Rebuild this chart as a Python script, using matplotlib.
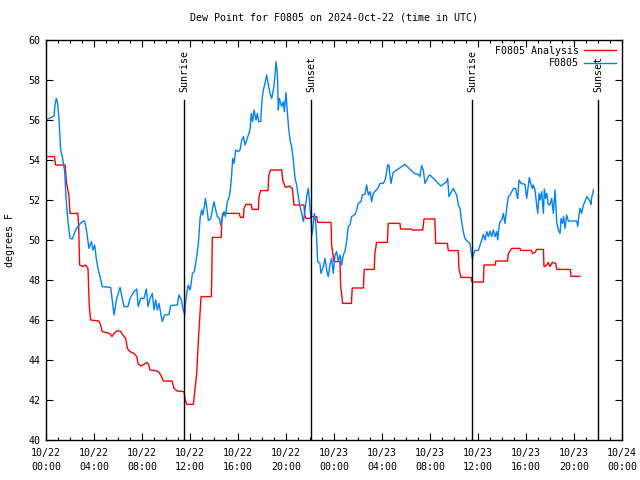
import matplotlib
matplotlib.use("Agg")
import matplotlib.pyplot as plt
from matplotlib.ticker import MultipleLocator

# ---- data (hours since 2024-10-22 00:00 UTC, degrees F) ----
obs_hours = [0.0, 0.44, 0.67, 0.75, 0.86, 0.97, 1.08, 1.22, 1.36, 1.56, 1.67, 1.83, 2.0, 2.19, 2.47, 2.75,
             3.03, 3.22, 3.39, 3.58, 3.78, 3.92, 4.06, 4.19, 4.33, 4.5, 4.69, 5.39, 5.53, 5.67, 5.89, 6.17,
             6.36, 6.5, 6.83, 7.0, 7.33, 7.56, 7.69, 7.89, 8.17, 8.36, 8.5, 8.67, 8.86, 9.0, 9.14, 9.28,
             9.42, 9.56, 9.69, 9.89, 10.25, 10.39, 10.94, 11.08, 11.28, 11.44, 11.56,
             11.62, 11.72, 11.86, 12.0, 12.08, 12.2, 12.36, 12.42, 12.56, 12.7, 12.84, 12.97, 13.06, 13.2,
             13.28, 13.39, 13.53, 13.73, 13.86, 14.0, 14.14, 14.28, 14.45, 14.56, 14.72, 14.84, 14.95,
             15.11, 15.28, 15.39, 15.47, 15.56, 15.67, 15.81, 16.03, 16.17, 16.31, 16.45, 16.59, 16.73,
             16.86, 17.0, 17.11, 17.22, 17.34, 17.5, 17.61, 17.72, 17.89, 18.0, 18.11, 18.25, 18.39,
             18.53, 18.67, 18.81, 18.95, 19.09, 19.17, 19.28, 19.36, 19.45, 19.56, 19.64, 19.78, 19.86,
             20.0, 20.11, 20.22, 20.34, 20.47, 20.61, 20.75, 20.89, 21.03, 21.17, 21.31, 21.45, 21.59,
             21.72, 21.86, 21.95, 22.06, 22.17, 22.28, 22.36, 22.47, 22.55, 22.64, 22.83, 22.91, 23.11,
             23.25, 23.39, 23.52, 23.66, 23.8, 23.94, 24.08, 24.22, 24.36, 24.5, 24.64, 24.77, 24.91,
             25.05, 25.19, 25.33, 25.47, 25.75, 25.89, 26.02, 26.25, 26.36, 26.58, 26.72, 26.86, 27.0,
             27.14, 27.27, 27.64, 27.83, 28.11, 28.3, 28.47, 28.58, 28.66, 28.75, 28.86, 28.94, 29.91,
             30.69, 31.02, 31.16, 31.3, 31.44, 31.58, 31.91, 32.0, 32.91, 33.39, 33.47, 33.58, 33.94,
             34.22, 34.36, 34.5, 34.64, 34.77, 34.91, 35.13, 35.33, 35.47, 35.53, 35.61, 35.75, 36.03,
             36.17, 36.31, 36.45, 36.59, 36.73, 36.86, 37.0, 37.14, 37.28, 37.42, 37.56, 37.64, 37.75,
             37.84, 37.98, 38.11, 38.25, 38.39, 38.53, 38.67, 38.81, 38.95, 39.14, 39.23, 39.31, 39.42,
             39.59, 39.92, 40.06, 40.2, 40.28, 40.39, 40.53, 40.61, 40.75, 40.89, 40.98, 41.09, 41.17,
             41.31, 41.45, 41.53, 41.64, 41.73, 41.86, 42.0, 42.14, 42.28, 42.42, 42.56, 42.7, 42.84,
             42.92, 43.03, 43.14, 43.25, 43.39, 43.53, 44.23, 44.31, 44.42, 44.5, 44.64, 44.78, 44.92,
             45.06, 45.2, 45.34, 45.42, 45.48, 45.56, 45.61]
obs_values = [56.0, 56.13, 56.2, 56.75, 57.08, 56.83, 56.08, 54.5, 54.17, 53.42, 52.08, 50.92, 50.08, 50.05,
              50.5, 50.75, 50.92, 50.95, 50.42, 49.58, 49.92, 49.5, 49.75, 49.08, 48.58, 48.17, 47.67,
              47.63, 46.92, 46.25, 47.08, 47.63, 47.08, 46.67, 46.67, 47.08, 47.42, 47.55, 46.67, 47.08,
              47.08, 47.55, 46.67, 47.08, 47.33, 46.5, 47.0, 46.5, 46.83, 46.33, 45.92, 46.25, 46.28,
              46.72, 46.75, 47.25, 47.0, 46.5, 46.28,
              46.83, 47.33, 47.75, 47.5, 47.75, 48.33, 48.42, 48.67, 49.17, 49.83, 51.08, 51.5, 51.25,
              51.67, 52.08, 51.67, 50.97, 51.08, 51.5, 51.92, 51.5, 51.17, 51.08, 50.75, 51.17, 51.42,
              51.17, 51.92, 52.17, 52.67, 53.25, 54.08, 53.83, 54.5, 54.42, 54.5, 55.0, 55.17, 54.75,
              55.0, 55.25, 55.5, 56.33, 55.92, 56.5, 56.0, 56.33, 55.92, 55.92, 57.0, 57.5, 57.83, 58.25,
              57.75, 57.33, 57.08, 57.5, 58.25, 58.92, 58.33, 56.5, 57.08, 56.83, 56.67, 56.92, 56.42,
              57.37, 56.42, 55.58, 55.0, 54.67, 54.0, 53.08, 52.75, 52.17, 51.67, 51.33, 50.92, 51.5,
              52.17, 52.58, 52.0, 51.17, 50.25, 50.83, 51.33, 50.92, 50.08, 48.92, 48.83, 48.33, 48.67,
              49.08, 48.5, 48.17, 48.75, 49.08, 48.33, 49.25, 49.42, 48.92, 49.25, 48.75, 49.25, 49.42,
              49.92, 50.67, 50.75, 51.17, 51.28, 51.5, 51.83, 51.92, 52.25, 52.28, 52.75, 52.25, 52.42,
              51.92, 52.33, 52.58, 52.83, 52.83, 53.08, 53.75, 53.75, 53.25, 52.83, 53.17, 53.38, 53.78,
              53.33, 53.28, 53.17, 53.72, 53.5, 52.83, 53.22, 53.25, 52.7, 52.92, 53.08, 52.17, 52.58,
              52.25, 51.75, 51.58, 50.92, 50.42, 50.08, 49.92, 49.83, 49.25, 49.08, 49.25, 49.48, 49.48,
              49.75, 50.0, 50.28, 50.0, 50.42, 50.17, 50.45, 50.17, 50.5, 50.17, 50.42, 50.0, 50.67,
              50.92, 51.0, 51.33, 50.83, 51.58, 52.17, 52.25, 52.42, 52.58, 52.58, 52.25, 52.08, 53.0,
              52.83, 52.78, 52.08, 52.75, 53.12, 52.83, 52.58, 52.75, 52.5, 51.75, 51.33, 52.33, 52.0,
              52.42, 51.33, 52.55, 52.08, 52.33, 51.75, 51.78, 52.08, 51.33, 52.5, 50.88, 50.5, 50.33,
              51.08, 50.83, 51.17, 50.58, 51.25, 50.95, 50.95, 50.67, 51.25, 51.58, 51.33, 51.75, 51.92,
              52.17, 52.08, 51.92, 51.78, 52.17, 52.28, 52.5]

ana_hours = [0.0, 0.7, 0.8, 1.6, 1.7, 1.9, 2.0, 2.65, 2.72, 2.8, 3.1, 3.3, 3.5, 3.6, 3.72, 4.4, 4.55, 4.69,
             5.3, 5.5, 5.67, 5.89, 6.2, 6.4, 6.64, 6.78, 7.0, 7.33, 7.56, 7.67, 7.89, 8.17, 8.39, 8.55,
             8.67, 9.28, 9.42, 9.56, 9.78, 10.5, 10.67, 10.94, 11.5, 11.58, 11.72, 12.28, 12.42, 12.56,
             12.7, 12.84, 12.92, 13.78, 13.81, 13.86, 14.6, 14.64, 14.72, 16.1, 16.2, 16.45, 16.5, 16.67,
             17.1, 17.18, 17.7, 17.75, 17.89, 18.5, 18.56, 18.7, 19.65, 19.72, 19.95, 20.3, 20.45, 20.53,
             20.67, 21.5, 21.56, 21.67, 22.0, 22.08, 22.55, 22.64, 23.75, 23.8, 24.0, 24.5, 24.55, 24.72,
             25.45, 25.52, 26.45, 26.52, 27.35, 27.41, 27.55, 28.45, 28.52, 29.5, 29.55, 30.45, 30.52,
             31.4, 31.5, 32.4, 32.47, 33.45, 33.52, 34.35, 34.41, 34.58, 35.42, 35.5, 36.45, 36.5, 37.45,
             37.48, 38.45, 38.53, 38.81, 39.5, 39.56, 40.45, 40.53, 40.75, 40.89, 41.45, 41.5, 41.73,
             41.85, 42.0, 42.2, 42.48, 42.56, 43.7, 43.75, 44.5]
ana_values = [54.17, 54.17, 53.75, 53.75, 52.9, 52.25, 51.33, 51.33, 50.75, 48.75, 48.67, 48.75, 48.58,
              46.75, 46.0, 45.95, 45.75, 45.42, 45.33, 45.17, 45.33, 45.45, 45.45, 45.25, 45.08, 44.58,
              44.42, 44.33, 44.17, 43.83, 43.7, 43.78, 43.88, 43.78, 43.5, 43.45, 43.38, 43.25, 42.95,
              42.95, 42.58, 42.45, 42.42, 42.08, 41.78, 41.78, 42.58, 43.33, 45.0, 46.42, 47.17, 47.17,
              48.0, 50.13, 50.13, 50.83, 51.33, 51.33, 51.13, 51.13, 51.58, 51.78, 51.78, 51.53, 51.53,
              52.17, 52.47, 52.47, 53.2, 53.5, 53.5, 53.0, 52.63, 52.7, 52.6, 52.58, 51.75, 51.75, 51.25,
              51.08, 51.08, 51.17, 51.17, 50.88, 50.88, 49.75, 48.92, 48.92, 47.75, 46.83, 46.83, 47.6,
              47.6, 48.53, 48.53, 49.33, 49.88, 49.88, 50.83, 50.83, 50.55, 50.55, 50.5, 50.5, 51.05,
              51.05, 49.83, 49.83, 49.47, 49.47, 48.58, 48.13, 48.13, 47.9, 47.9, 48.75, 48.75, 48.95,
              48.95, 49.33, 49.58, 49.58, 49.48, 49.48, 49.33, 49.38, 49.53, 49.53, 48.67, 48.75, 48.88,
              48.67, 48.88, 48.83, 48.53, 48.53, 48.18, 48.18]

sun_hours = [11.5, 22.08, 35.5, 46.0]
sun_labels = ["Sunrise", "Sunset", "Sunrise", "Sunset"]

tick_hours = [0, 4, 8, 12, 16, 20, 24, 28, 32, 36, 40, 44, 48]
tick_labels = ["10/22\n00:00", "10/22\n04:00", "10/22\n08:00", "10/22\n12:00", "10/22\n16:00",
               "10/22\n20:00", "10/23\n00:00", "10/23\n04:00", "10/23\n08:00", "10/23\n12:00",
               "10/23\n16:00", "10/23\n20:00", "10/24\n00:00"]

FONT = "DejaVu Sans Mono"
FS = 7.2

fig = plt.figure(figsize=(6.4, 4.8), dpi=100)
ax = fig.add_axes([46 / 640, 40 / 480, 576 / 640, 400 / 480])

ax.plot(ana_hours, ana_values, color="#ff0000", lw=1.0, label="F0805 Analysis")
ax.plot(obs_hours, obs_values, color="#0080ff", lw=1.0, label="F0805")

for h, lab in zip(sun_hours, sun_labels):
    ax.plot([h, h], [40, 57], color="black", lw=1.0)
    ax.text(h, 57.4, lab, rotation=90, ha="center", va="bottom", fontsize=FS, family=FONT)

ax.set_xlim(0, 48)
ax.set_ylim(40, 60)
ax.set_xticks(tick_hours)
ax.set_xticklabels(tick_labels, fontsize=FS, family=FONT, linespacing=1.4)
ax.xaxis.set_minor_locator(MultipleLocator(1))
ax.set_yticks(range(40, 61, 2))
ax.set_yticklabels([str(v) for v in range(40, 61, 2)], fontsize=FS, family=FONT)
ax.tick_params(which="both", direction="in", top=True, right=True, width=0.8, color="black")
ax.tick_params(which="major", length=5, pad=4)
ax.tick_params(axis="x", which="major", pad=6)
ax.tick_params(which="minor", length=2.5)
for s in ax.spines.values():
    s.set_linewidth(1.0)

ax.set_ylabel("degrees F", fontsize=FS, family=FONT, labelpad=10)
ax.set_title("Dew Point for F0805 on 2024-Oct-22 (time in UTC)", fontsize=FS, family=FONT, pad=14)

leg = ax.legend(loc="upper right", frameon=False, prop={"family": FONT, "size": FS},
                handlelength=3.2, handletextpad=0.5, markerfirst=False, borderaxespad=0.2,
                labelspacing=0.25)

fig.savefig("out.png", dpi=100)
